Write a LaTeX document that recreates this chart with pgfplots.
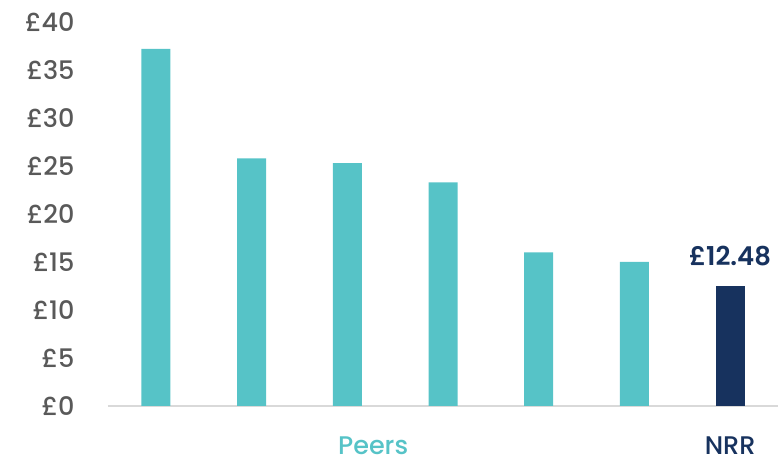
\documentclass[border=0pt]{standalone}
\usepackage{fontspec}
\setmainfont{Poppins}[UprightFont=* Medium, BoldFont=* SemiBold]
\usepackage{pgfplots}
\pgfplotsset{compat=1.18}
\definecolor{teal}{HTML}{56C3C7}
\definecolor{navy}{HTML}{17325E}
\definecolor{axgrey}{HTML}{D9D9D9}
\definecolor{txtgrey}{HTML}{595959}
\begin{document}
\begin{tikzpicture}[x=1pt,y=1pt]
\useasboundingbox (0,0) rectangle (780,465);
\begin{axis}[
  at={(108pt,59pt)}, anchor=south west,
  scale only axis, width=670pt, height=384pt,
  xmin=-0.5, xmax=6.5, ymin=0, ymax=40,
  axis lines*=left,
  y axis line style={draw=none},
  x axis line style={draw=axgrey, line width=1.2pt},
  major tick length=0pt,
  ytick={0,5,...,40},
  yticklabels={£0,£5,£10,£15,£20,£25,£30,£35,£40},
  yticklabel style={font=\fontsize{25.5}{30}\selectfont, text=txtgrey, anchor=east, xshift=-30pt},
  xtick={2.27,6},
  xticklabels={\textcolor{teal}{Peers},\textcolor{navy}{NRR}},
  xticklabel style={font=\fontsize{25.5}{30}\selectfont, anchor=north, yshift=-27pt},
  ybar, bar width=29pt,
  clip=false,
]
\addplot[fill=teal, draw=none, bar shift=0pt] coordinates {(0,37.2) (1,25.8) (2,25.3) (3,23.3) (4,16.0) (5,15.0)};
\addplot[fill=navy, draw=none, bar shift=0pt,
  nodes near coords={£12.48},
  nodes near coords style={font=\bfseries\fontsize{26}{30}\selectfont, text=navy, anchor=south, yshift=17pt}] coordinates {(6,12.48)};
\end{axis}
\end{tikzpicture}
\end{document}
